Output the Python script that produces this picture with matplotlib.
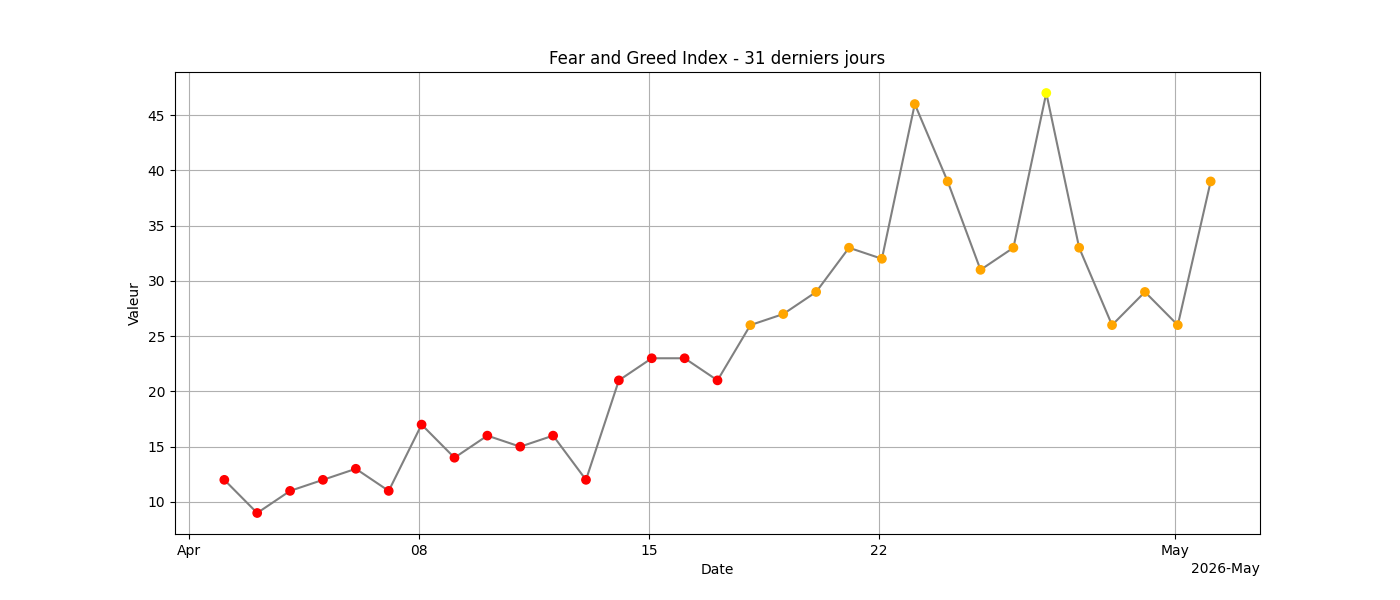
import matplotlib
matplotlib.use("Agg")
import matplotlib.pyplot as plt
import matplotlib.dates as mdates
import pandas as pd

dates = pd.date_range("2026-04-02 02:00", "2026-05-02 02:00", freq="D")
values = [12, 9, 11, 12, 13, 11, 17, 14, 16, 15, 16, 12, 21, 23, 23, 21,
          26, 27, 29, 33, 32, 46, 39, 31, 33, 47, 33, 26, 29, 26, 39]


def point_color(v):
    if v < 25:
        return "red"
    if v < 47:
        return "orange"
    return "yellow"


colors = [point_color(v) for v in values]

fig, ax = plt.subplots(figsize=(14, 6))
ax.plot(dates, values, color="gray", zorder=2)
ax.scatter(dates, values, c=colors, zorder=3)

locator = mdates.DayLocator(bymonthday=[1, 8, 15, 22])
ax.xaxis.set_major_locator(locator)
ax.xaxis.set_major_formatter(mdates.ConciseDateFormatter(locator))

ax.set_title("Fear and Greed Index - 31 derniers jours")
ax.set_xlabel("Date")
ax.set_ylabel("Valeur")
ax.grid(True)

plt.savefig("out.png", dpi=100)
plt.close()
